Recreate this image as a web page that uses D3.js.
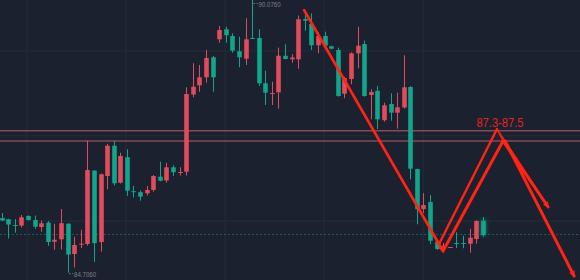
<!DOCTYPE html>
<html><head><meta charset="utf-8">
<script src="https://cdn.jsdelivr.net/npm/d3@7/dist/d3.min.js"></script>
<style>html,body{margin:0;padding:0;background:#1b212e;overflow:hidden}svg{display:block}</style>
</head><body><svg id="c" width="580" height="280"></svg>
<script>
const openV = [85.783,85.758,85.645,85.635,85.823,85.744,85.606,85.691,85.316,85.364,85.671,85.074,85.261,85.271,86.715,85.311,86.610,87.207,86.478,86.980,86.311,86.291,86.270,86.335,86.596,86.522,86.782,86.675,86.695,88.215,88.396,88.554,88.948,89.302,89.499,89.367,89.066,88.920,89.328,89.328,88.436,88.231,88.258,88.979,88.908,88.908,89.702,89.603,89.184,89.367,89.164,89.091,88.231,88.520,89.026,89.210,88.205,88.288,87.709,88.028,87.857,87.959,88.363,86.748,85.960,86.098,85.316,85.187,85.196,85.291,85.291,85.277,85.370,85.728];
const highV = [85.882,85.769,85.763,85.842,85.836,85.832,85.734,85.724,85.669,85.960,85.679,85.415,85.547,87.305,86.728,86.659,87.244,87.303,87.069,87.136,86.417,86.325,86.413,86.630,86.892,86.872,86.823,86.782,88.357,88.830,88.796,89.091,88.973,89.564,89.550,89.420,89.353,89.716,90.076,89.499,88.684,88.467,89.137,89.204,89.007,89.767,89.800,89.814,89.440,89.452,89.176,89.137,88.566,89.046,89.550,89.275,88.318,88.383,88.054,88.239,88.251,88.987,88.383,86.754,86.270,86.236,85.350,85.291,85.212,85.502,85.435,85.571,85.738,85.799];
const lowV = [85.724,85.380,85.494,85.596,85.730,85.572,85.513,85.236,85.157,85.163,84.706,84.808,85.192,85.238,84.917,85.120,86.348,86.423,86.463,86.220,86.187,86.124,86.226,86.301,86.506,86.478,86.610,86.620,86.620,88.160,88.270,88.448,88.270,89.235,89.235,89.038,88.751,88.796,89.308,88.383,88.008,88.008,87.936,88.908,88.839,88.723,89.472,89.091,89.026,89.125,89.105,88.172,88.140,88.416,88.731,88.172,87.727,87.536,87.680,87.699,87.542,87.939,86.545,85.659,85.882,85.271,85.153,85.104,85.192,85.192,85.187,85.100,85.277,85.415];
const closeV = [85.734,85.655,85.634,85.797,85.744,85.612,85.679,85.311,85.356,85.681,85.064,85.251,85.277,86.728,85.287,86.644,87.207,86.467,87.004,86.321,86.299,86.203,86.335,86.610,86.518,86.782,86.685,86.689,88.225,88.369,88.554,88.934,88.554,89.485,89.381,89.078,88.948,89.302,89.312,88.436,88.251,88.245,88.979,88.914,88.944,89.696,89.668,89.184,89.367,89.176,89.117,88.186,88.540,89.026,89.176,88.186,88.264,87.727,88.002,87.857,87.963,88.357,86.754,85.955,86.039,85.336,85.173,85.202,85.212,85.277,85.275,85.395,85.724,85.448];

const zoneLevels = [87.5, 87.3];
const zoneLabel = "87.3-87.5";
const gridIdx = [3.84, 18.87, 33.89, 48.91, 63.94];
const gridPrice = [89.072, 87.398, 85.724];
const hiLabel = "90.0760";
const loLabel = "84.7060";
// annotation arrows: [candle index, price]
const arrowDown1 = [[45.88, 89.879], [66.97, 85.133]];
const upLeft = [[66.36, 85.271], [75.16, 87.536]];
const upRight = [[66.97, 85.133], [76.07, 87.299]];
const downThin = [[75.16, 87.536], [82.60, 86.079]];
const downShort = [[76.07, 87.299], [82.91, 86.000]];
const downLong = [[76.38, 87.299], [86.85, 84.641]];

const W = 580, H = 280;
const svg = d3.select("#c");
const x = d3.scaleLinear().domain([0, 73]).range([1.67, 482.8]);
const y = d3.scaleLinear().domain([84.706, 90.076]).range([272.7, 0]);

const RED = "#e24b5b", TEAL = "#12a58c";
svg.append("rect").attr("width", W).attr("height", H).attr("fill", "#1b212e");

const defs = svg.append("defs");
const f = defs.append("filter").attr("id","glow").attr("x","-200%").attr("y","-50%").attr("width","500%").attr("height","200%");
f.append("feDropShadow").attr("dx",0).attr("dy",0).attr("stdDeviation",2).attr("flood-color",TEAL).attr("flood-opacity",0.8);
const mk = defs.append("marker").attr("id","ah").attr("viewBox","0 0 10 10").attr("refX",8).attr("refY",5)
  .attr("markerWidth",7).attr("markerHeight",6).attr("markerUnits","userSpaceOnUse").attr("orient","auto");
mk.append("path").attr("d","M0,0 L10,5 L0,10 z").attr("fill","#ff2414");

// grid
svg.append("g").selectAll("line").data(gridIdx).join("line")
  .attr("x1", d => x(d)).attr("x2", d => x(d)).attr("y1", 0).attr("y2", H)
  .attr("stroke", "#252d3b").attr("stroke-width", 1);
svg.append("g").selectAll("line").data(gridPrice).join("line")
  .attr("x1", 0).attr("x2", W).attr("y1", d => y(d)).attr("y2", d => y(d))
  .attr("stroke", "#252d3b").attr("stroke-width", 1);

// last price dotted line
const lastClose = closeV[closeV.length - 1];
svg.append("line").attr("x1", 0).attr("x2", W).attr("y1", y(lastClose) - 0.5).attr("y2", y(lastClose) - 0.5)
  .attr("stroke", "#1d5f58").attr("stroke-width", 1).attr("stroke-dasharray", "2,2");

// zone lines
svg.append("g").selectAll("line").data(zoneLevels).join("line")
  .attr("x1", 0).attr("x2", W).attr("y1", d => y(d)).attr("y2", d => y(d))
  .attr("stroke", "#874a55").attr("stroke-width", 1.6);

// candles
const data = openV.map((o, i) => ({i, o, h: highV[i], l: lowV[i], c: closeV[i]}));
const bw = 4.6;
const g = svg.append("g").selectAll("g").data(data).join("g")
  .attr("filter", d => d.i === data.length - 1 ? "url(#glow)" : null);
g.append("line")
  .attr("x1", d => Math.round(x(d.i)) + 0.5).attr("x2", d => Math.round(x(d.i)) + 0.5)
  .attr("y1", d => y(d.h)).attr("y2", d => y(d.l))
  .attr("stroke", d => d.c >= d.o ? RED : TEAL).attr("stroke-width", 1);
g.append("rect")
  .attr("x", d => Math.round(x(d.i)) + 0.5 - bw / 2).attr("width", bw)
  .attr("y", d => y(Math.max(d.o, d.c)))
  .attr("height", d => Math.max(1, y(Math.min(d.o, d.c)) - y(Math.max(d.o, d.c))))
  .attr("fill", d => d.c >= d.o ? RED : TEAL);

// extremum labels
const hiIdx = highV.indexOf(d3.max(highV));
const loIdx = lowV.indexOf(d3.min(lowV));
[[hiIdx, highV[hiIdx], hiLabel, 6.5], [loIdx, lowV[loIdx], loLabel, 4]].forEach(([i, p, t, dy]) => {
  svg.append("line").attr("x1", x(i) + 1.5).attr("x2", x(i) + 5.5).attr("y1", y(p) + dy - 3).attr("y2", y(p) + dy - 3)
    .attr("stroke", "#787d87").attr("stroke-width", 1).attr("stroke-dasharray", "1.5,1.5");
  svg.append("text").attr("x", x(i) + 6.5).attr("y", y(p) + dy)
    .attr("font-family", "Liberation Sans, Arial, sans-serif").attr("font-size", 8)
    .attr("textLength", 22).attr("lengthAdjust", "spacingAndGlyphs")
    .attr("fill", "#7c818b").text(t);
});

// annotation arrows
const line = d3.line().x(d => x(d[0])).y(d => y(d[1]));
const AC = "#ff2414";
function arrow(pts, w, head) {
  svg.append("path").attr("d", line(pts)).attr("fill", "none").attr("stroke", AC)
    .attr("stroke-width", w).attr("stroke-linecap", "round")
    .attr("marker-end", head ? "url(#ah)" : null);
}
arrow(arrowDown1, 2.6, true);
arrow(upLeft, 2.4, false);
arrow(upRight, 3, false);
arrow(downThin, 1.3, false);
arrow(downShort, 3, true);
arrow(downLong, 3, true);
svg.append("line").attr("x1", x(upLeft[1][0])).attr("y1", y(upLeft[1][1]))
  .attr("x2", x(upRight[1][0])).attr("y2", y(upRight[1][1]))
  .attr("stroke", AC).attr("stroke-width", 1.3);

// zone label
svg.append("text").attr("x", x(75.6)).attr("y", y(zoneLevels[0]) - 3.5)
  .attr("text-anchor", "middle").attr("font-family", "Liberation Sans, Arial, sans-serif")
  .attr("font-size", 13.5).attr("textLength", 47).attr("lengthAdjust", "spacingAndGlyphs")
  .attr("fill", "#e8231f").text(zoneLabel);
</script></body></html>
